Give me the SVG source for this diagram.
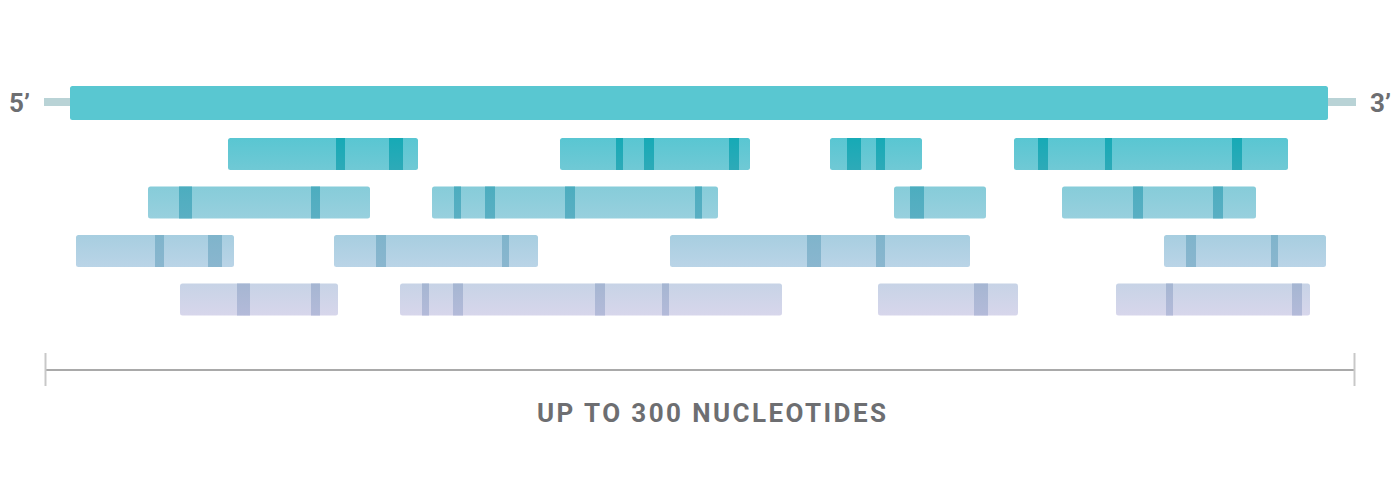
<svg xmlns="http://www.w3.org/2000/svg" width="1400" height="488" viewBox="0 0 1400 488">
<defs>
<linearGradient id="g1" x1="0" y1="0" x2="0" y2="1"><stop offset="0" stop-color="#59c6d2"/><stop offset="1" stop-color="#70c9d5"/></linearGradient>
<linearGradient id="g2" x1="0" y1="0" x2="0" y2="1"><stop offset="0" stop-color="#86ccd9"/><stop offset="1" stop-color="#98d0de"/></linearGradient>
<linearGradient id="g3" x1="0" y1="0" x2="0" y2="1"><stop offset="0" stop-color="#a7cee0"/><stop offset="1" stop-color="#bad4e7"/></linearGradient>
<linearGradient id="g4" x1="0" y1="0" x2="0" y2="1"><stop offset="0" stop-color="#c7d3e6"/><stop offset="1" stop-color="#d7d6eb"/></linearGradient>
<linearGradient id="m1" x1="0" y1="0" x2="0" y2="1"><stop offset="0" stop-color="#16aab6"/><stop offset="1" stop-color="#2eaab8"/></linearGradient>
<linearGradient id="m2" x1="0" y1="0" x2="0" y2="1"><stop offset="0" stop-color="#4cadbf"/><stop offset="1" stop-color="#5aafc3"/></linearGradient>
<linearGradient id="m3" x1="0" y1="0" x2="0" y2="1"><stop offset="0" stop-color="#7fb4cb"/><stop offset="1" stop-color="#8ab6cf"/></linearGradient>
<linearGradient id="m4" x1="0" y1="0" x2="0" y2="1"><stop offset="0" stop-color="#a5b6d2"/><stop offset="1" stop-color="#b4bad9"/></linearGradient>
</defs>
<style>
.lbl{font-family:Roboto,"Liberation Sans",sans-serif;font-weight:bold;fill:#6d6e71}
.r1{fill:url(#g1)}.r2{fill:url(#g2)}.r3{fill:url(#g3)}.r4{fill:url(#g4)}
.k1{fill:url(#m1)}.k2{fill:url(#m2)}.k3{fill:url(#m3)}.k4{fill:url(#m4)}
.tick{stroke:#c8c8c8;stroke-width:2}
.scale{stroke:#a9a9a9;stroke-width:2}
</style>
<rect width="1400" height="488" fill="#ffffff"/>
<g id="template">
<rect x="44" y="98" width="1312" height="8" fill="#b9d3d6"/>
<rect x="70" y="86" width="1258" height="34" rx="2.5" fill="#59c7d1"/>
<text class="lbl" x="9" y="112" font-size="26">5’</text>
<text class="lbl" x="1370" y="112" font-size="26">3’</text>
</g>
<g id="row1">
<g id="f1a"><rect class="r1" x="228" y="138" width="190" height="32" rx="2.5"/><rect class="k1" x="336" y="138" width="9" height="32"/><rect class="k1" x="389" y="138" width="14" height="32"/></g>
<g id="f1b"><rect class="r1" x="560" y="138" width="190" height="32" rx="2.5"/><rect class="k1" x="616" y="138" width="7" height="32"/><rect class="k1" x="644" y="138" width="10" height="32"/><rect class="k1" x="729" y="138" width="10" height="32"/></g>
<g id="f1c"><rect class="r1" x="830" y="138" width="92" height="32" rx="2.5"/><rect class="k1" x="847" y="138" width="14" height="32"/><rect class="k1" x="876" y="138" width="9" height="32"/></g>
<g id="f1d"><rect class="r1" x="1014" y="138" width="274" height="32" rx="2.5"/><rect class="k1" x="1038" y="138" width="10" height="32"/><rect class="k1" x="1105" y="138" width="7" height="32"/><rect class="k1" x="1232" y="138" width="10" height="32"/></g>
</g>
<g id="row2">
<g id="f2a"><rect class="r2" x="148" y="186.5" width="222" height="32" rx="2.5"/><rect class="k2" x="179" y="186.5" width="13" height="32"/><rect class="k2" x="311" y="186.5" width="9" height="32"/></g>
<g id="f2b"><rect class="r2" x="432" y="186.5" width="286" height="32" rx="2.5"/><rect class="k2" x="454" y="186.5" width="7" height="32"/><rect class="k2" x="485" y="186.5" width="10" height="32"/><rect class="k2" x="565" y="186.5" width="10" height="32"/><rect class="k2" x="695" y="186.5" width="7" height="32"/></g>
<g id="f2c"><rect class="r2" x="894" y="186.5" width="92" height="32" rx="2.5"/><rect class="k2" x="910" y="186.5" width="14" height="32"/></g>
<g id="f2d"><rect class="r2" x="1062" y="186.5" width="194" height="32" rx="2.5"/><rect class="k2" x="1133" y="186.5" width="10" height="32"/><rect class="k2" x="1213" y="186.5" width="10" height="32"/></g>
</g>
<g id="row3">
<g id="f3a"><rect class="r3" x="76" y="235" width="158" height="32" rx="2.5"/><rect class="k3" x="155" y="235" width="9" height="32"/><rect class="k3" x="208" y="235" width="14" height="32"/></g>
<g id="f3b"><rect class="r3" x="334" y="235" width="204" height="32" rx="2.5"/><rect class="k3" x="376" y="235" width="10" height="32"/><rect class="k3" x="502" y="235" width="7" height="32"/></g>
<g id="f3c"><rect class="r3" x="670" y="235" width="300" height="32" rx="2.5"/><rect class="k3" x="807" y="235" width="14" height="32"/><rect class="k3" x="876" y="235" width="9" height="32"/></g>
<g id="f3d"><rect class="r3" x="1164" y="235" width="162" height="32" rx="2.5"/><rect class="k3" x="1186" y="235" width="10" height="32"/><rect class="k3" x="1271" y="235" width="7" height="32"/></g>
</g>
<g id="row4">
<g id="f4a"><rect class="r4" x="180" y="283.5" width="158" height="32" rx="2.5"/><rect class="k4" x="237" y="283.5" width="13" height="32"/><rect class="k4" x="311" y="283.5" width="9" height="32"/></g>
<g id="f4b"><rect class="r4" x="400" y="283.5" width="382" height="32" rx="2.5"/><rect class="k4" x="422" y="283.5" width="7" height="32"/><rect class="k4" x="453" y="283.5" width="10" height="32"/><rect class="k4" x="595" y="283.5" width="10" height="32"/><rect class="k4" x="662" y="283.5" width="7" height="32"/></g>
<g id="f4c"><rect class="r4" x="878" y="283.5" width="140" height="32" rx="2.5"/><rect class="k4" x="974" y="283.5" width="14" height="32"/></g>
<g id="f4d"><rect class="r4" x="1116" y="283.5" width="194" height="32" rx="2.5"/><rect class="k4" x="1166" y="283.5" width="7" height="32"/><rect class="k4" x="1292" y="283.5" width="10" height="32"/></g>
</g>
<g id="connectors">
<line class="scale" x1="45" y1="370" x2="1355" y2="370"/>
<line class="tick" x1="45.5" y1="353" x2="45.5" y2="386"/>
<line class="tick" x1="1354.5" y1="353" x2="1354.5" y2="386"/>
</g>
<g id="caption">
<text class="lbl" x="537" y="422" font-size="26" textLength="349" lengthAdjust="spacing">UP TO 300 NUCLEOTIDES</text>
</g>
</svg>
